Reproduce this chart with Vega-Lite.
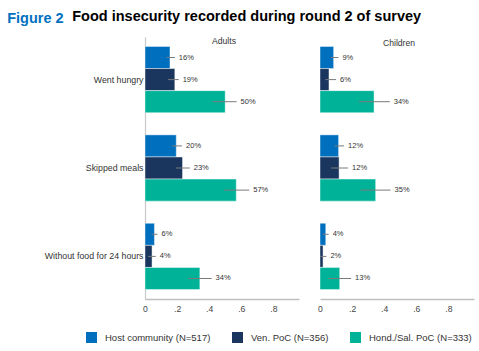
{
  "$schema": "https://vega.github.io/schema/vega-lite/v6.json",
  "padding": {"left": 7, "top": 8, "right": 5, "bottom": 5},
  "title": {"text": "Figure 2", "color": "#0070C0", "fontSize": 14.5, "fontWeight": "bold", "font": "Liberation Sans", "anchor": "start", "dx": -37, "offset": -18},
  "datasets": {
    "bars": [
      {"panel": "Adults", "cat": "Went hungry", "group": "Host community (N=517)", "v": 0.156, "lo": 0.134, "hi": 0.186, "label": "16%"},
      {"panel": "Adults", "cat": "Went hungry", "group": "Ven. PoC (N=356)", "v": 0.186, "lo": 0.144, "hi": 0.21, "label": "19%"},
      {"panel": "Adults", "cat": "Went hungry", "group": "Hond./Sal. PoC (N=333)", "v": 0.5, "lo": 0.421, "hi": 0.571, "label": "50%"},
      {"panel": "Adults", "cat": "Skipped meals", "group": "Host community (N=517)", "v": 0.195, "lo": 0.169, "hi": 0.231, "label": "20%"},
      {"panel": "Adults", "cat": "Skipped meals", "group": "Ven. PoC (N=356)", "v": 0.234, "lo": 0.192, "hi": 0.279, "label": "23%"},
      {"panel": "Adults", "cat": "Skipped meals", "group": "Hond./Sal. PoC (N=333)", "v": 0.569, "lo": 0.493, "hi": 0.65, "label": "57%"},
      {"panel": "Adults", "cat": "Without food for 24 hours", "group": "Host community (N=517)", "v": 0.059, "lo": 0.04, "hi": 0.078, "label": "6%"},
      {"panel": "Adults", "cat": "Without food for 24 hours", "group": "Ven. PoC (N=356)", "v": 0.044, "lo": 0.019, "hi": 0.067, "label": "4%"},
      {"panel": "Adults", "cat": "Without food for 24 hours", "group": "Hond./Sal. PoC (N=333)", "v": 0.342, "lo": 0.268, "hi": 0.415, "label": "34%"},
      {"panel": "Children", "cat": "Went hungry", "group": "Host community (N=517)", "v": 0.085, "lo": 0.069, "hi": 0.115, "label": "9%"},
      {"panel": "Children", "cat": "Went hungry", "group": "Ven. PoC (N=356)", "v": 0.056, "lo": 0.034, "hi": 0.1, "label": "6%"},
      {"panel": "Children", "cat": "Went hungry", "group": "Hond./Sal. PoC (N=333)", "v": 0.337, "lo": 0.242, "hi": 0.435, "label": "34%"},
      {"panel": "Children", "cat": "Skipped meals", "group": "Host community (N=517)", "v": 0.116, "lo": 0.09, "hi": 0.15, "label": "12%"},
      {"panel": "Children", "cat": "Skipped meals", "group": "Ven. PoC (N=356)", "v": 0.119, "lo": 0.069, "hi": 0.175, "label": "12%"},
      {"panel": "Children", "cat": "Skipped meals", "group": "Hond./Sal. PoC (N=333)", "v": 0.347, "lo": 0.252, "hi": 0.44, "label": "35%"},
      {"panel": "Children", "cat": "Without food for 24 hours", "group": "Host community (N=517)", "v": 0.036, "lo": 0.017, "hi": 0.054, "label": "4%"},
      {"panel": "Children", "cat": "Without food for 24 hours", "group": "Ven. PoC (N=356)", "v": 0.019, "lo": 0.0, "hi": 0.04, "label": "2%"},
      {"panel": "Children", "cat": "Without food for 24 hours", "group": "Hond./Sal. PoC (N=333)", "v": 0.123, "lo": 0.054, "hi": 0.194, "label": "13%"}
    ]
  },
  "vconcat": [
    {
      "title": {"text": "Food insecurity recorded during round 2 of survey", "color": "#000000", "fontSize": 14.5, "fontWeight": "bold", "font": "Liberation Sans", "anchor": "start", "dx": 28, "offset": 13},
      "spacing": 18,
      "hconcat": [
        {
          "width": 154, "height": 262,
          "data": {"name": "bars"},
          "transform": [{"filter": "datum.panel === 'Adults'"}],
          "title": {"text": "Adults", "offset": -9, "dx": 2, "fontSize": 8.6, "fontWeight": "normal", "color": "#333333", "font": "Liberation Sans", "anchor": "middle"},
          "encoding": {
            "y": {"field": "cat", "type": "nominal", "sort": ["Went hungry", "Skipped meals", "Without food for 24 hours"], "scale": {"paddingInner": 0.25, "paddingOuter": 0.107},
                  "axis": {"title": null, "ticks": false, "labelPadding": 2, "labelFontSize": 8.8, "labelColor": "#333333", "domainColor": "#c8c8c8", "domainWidth": 1.2, "labelFont": "Liberation Sans"}},
            "yOffset": {"field": "group", "type": "nominal", "sort": ["Host community (N=517)", "Ven. PoC (N=356)", "Hond./Sal. PoC (N=333)"], "scale": {"paddingInner": 0, "paddingOuter": 0}}
          },
          "layer": [
            {
              "mark": {"type": "bar", "stroke": "#ffffff", "strokeOpacity": 0.45, "strokeWidth": 1},
              "encoding": {
                "x": {"field": "v", "type": "quantitative", "scale": {"domain": [0, 0.96], "nice": false},
                      "axis": {"title": null, "values": [0, 0.2, 0.4, 0.6, 0.8], "labelExpr": "datum.value == 0 ? '0' : '.' + round(datum.value * 10)", "labelOverlap": false, "labelFlush": false, "grid": false, "ticks": false, "labelPadding": 5, "labelFontSize": 8.6, "labelColor": "#444444", "domainColor": "#c0c0c0", "domainWidth": 1.6, "labelFont": "Liberation Sans"}},
                "color": {"field": "group", "type": "nominal", "sort": ["Host community (N=517)", "Ven. PoC (N=356)", "Hond./Sal. PoC (N=333)"],
                          "scale": {"domain": ["Host community (N=517)", "Ven. PoC (N=356)", "Hond./Sal. PoC (N=333)"], "range": ["#0070BE", "#1A365E", "#00B398"]},
                          "legend": {"orient": "none", "direction": "horizontal", "legendX": -59, "legendY": 295, "padding": 0, "title": null, "symbolType": "square", "symbolSize": 121, "symbolStrokeWidth": 0, "labelFontSize": 9.5, "labelColor": "#333333", "labelFont": "Liberation Sans", "labelOffset": 8, "columnPadding": 21}}
              }
            },
            {
              "mark": {"type": "rule", "color": "#7a7a7a", "strokeWidth": 1},
              "encoding": {"x": {"field": "lo", "type": "quantitative",
                      "axis": {"title": null, "values": [0, 0.2, 0.4, 0.6, 0.8], "labelExpr": "datum.value == 0 ? '0' : '.' + round(datum.value * 10)", "labelOverlap": false, "labelFlush": false, "grid": false, "ticks": false, "labelPadding": 5, "labelFontSize": 8.6, "labelColor": "#444444", "domainColor": "#c0c0c0", "domainWidth": 1.6, "labelFont": "Liberation Sans"}}, "x2": {"field": "hi"}}
            },
            {
              "mark": {"type": "text", "align": "left", "baseline": "middle", "dx": 4, "fontSize": 7.5, "color": "#333333", "font": "Liberation Sans"},
              "encoding": {"x": {"field": "hi", "type": "quantitative",
                      "axis": {"title": null, "values": [0, 0.2, 0.4, 0.6, 0.8], "labelExpr": "datum.value == 0 ? '0' : '.' + round(datum.value * 10)", "labelOverlap": false, "labelFlush": false, "grid": false, "ticks": false, "labelPadding": 5, "labelFontSize": 8.6, "labelColor": "#444444", "domainColor": "#c0c0c0", "domainWidth": 1.6, "labelFont": "Liberation Sans"}}, "text": {"field": "label"}}
            }
          ]
        },
        {
          "width": 154, "height": 262,
          "data": {"name": "bars"},
          "transform": [{"filter": "datum.panel === 'Children'"}],
          "title": {"text": "Children", "offset": -11, "dx": 2, "fontSize": 8.6, "fontWeight": "normal", "color": "#333333", "font": "Liberation Sans", "anchor": "middle"},
          "encoding": {
            "y": {"field": "cat", "type": "nominal", "sort": ["Went hungry", "Skipped meals", "Without food for 24 hours"], "scale": {"paddingInner": 0.25, "paddingOuter": 0.107}, "axis": null},
            "yOffset": {"field": "group", "type": "nominal", "sort": ["Host community (N=517)", "Ven. PoC (N=356)", "Hond./Sal. PoC (N=333)"], "scale": {"paddingInner": 0, "paddingOuter": 0}}
          },
          "layer": [
            {
              "mark": {"type": "bar", "stroke": "#ffffff", "strokeOpacity": 0.45, "strokeWidth": 1},
              "encoding": {
                "x": {"field": "v", "type": "quantitative", "scale": {"domain": [0, 0.96], "nice": false},
                      "axis": {"title": null, "values": [0, 0.2, 0.4, 0.6, 0.8], "labelExpr": "datum.value == 0 ? '0' : '.' + round(datum.value * 10)", "labelOverlap": false, "labelFlush": false, "grid": false, "ticks": false, "labelPadding": 5, "labelFontSize": 8.6, "labelColor": "#444444", "domainColor": "#c0c0c0", "domainWidth": 1.6, "labelFont": "Liberation Sans"}},
                "color": {"field": "group", "type": "nominal", "sort": ["Host community (N=517)", "Ven. PoC (N=356)", "Hond./Sal. PoC (N=333)"]}
              }
            },
            {
              "mark": {"type": "rule", "color": "#7a7a7a", "strokeWidth": 1},
              "encoding": {"x": {"field": "lo", "type": "quantitative",
                      "axis": {"title": null, "values": [0, 0.2, 0.4, 0.6, 0.8], "labelExpr": "datum.value == 0 ? '0' : '.' + round(datum.value * 10)", "labelOverlap": false, "labelFlush": false, "grid": false, "ticks": false, "labelPadding": 5, "labelFontSize": 8.6, "labelColor": "#444444", "domainColor": "#c0c0c0", "domainWidth": 1.6, "labelFont": "Liberation Sans"}}, "x2": {"field": "hi"}}
            },
            {
              "mark": {"type": "text", "align": "left", "baseline": "middle", "dx": 4, "fontSize": 7.5, "color": "#333333", "font": "Liberation Sans"},
              "encoding": {"x": {"field": "hi", "type": "quantitative",
                      "axis": {"title": null, "values": [0, 0.2, 0.4, 0.6, 0.8], "labelExpr": "datum.value == 0 ? '0' : '.' + round(datum.value * 10)", "labelOverlap": false, "labelFlush": false, "grid": false, "ticks": false, "labelPadding": 5, "labelFontSize": 8.6, "labelColor": "#444444", "domainColor": "#c0c0c0", "domainWidth": 1.6, "labelFont": "Liberation Sans"}}, "text": {"field": "label"}}
            }
          ]
        }
      ]
    }
  ],
  "config": {"view": {"stroke": null}, "font": "Liberation Sans", "axis": {"labelOverlap": false}}
}
